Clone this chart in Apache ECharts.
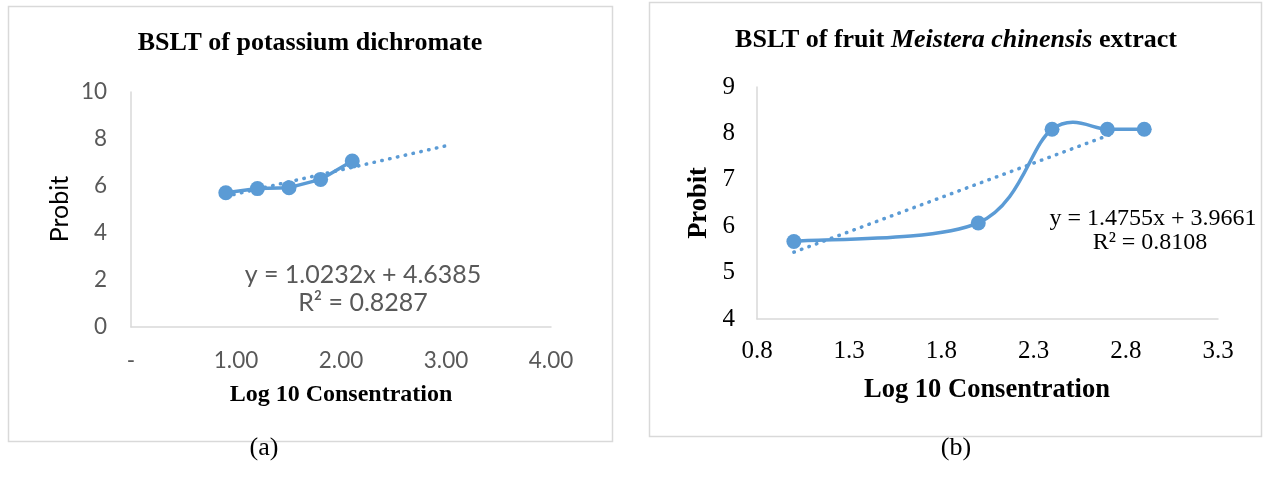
<!DOCTYPE html>
<html>
<head>
<meta charset="utf-8">
<title>BSLT charts</title>
<script src="https://cdn.jsdelivr.net/npm/echarts@6/dist/echarts.min.js"></script>
<style>
  html, body { margin: 0; padding: 0; background: #fff; }
  #chart { width: 1266px; height: 491px; }
</style>
</head>
<body>
<div id="chart"></div>
<script>
// (a) potassium dichromate
const logConcA = [0.903, 1.204, 1.505, 1.806, 2.107];
const probitA = [5.71, 5.89, 5.93, 6.28, 7.06];
const trendA = [[0.903, 5.56], [3.0, 7.71]];
const xTicksA = [0, 1, 2, 3, 4];

// (b) fruit Meistera chinensis extract
const logConcB = [1.0, 2.0, 2.4, 2.7, 2.9];
const probitB = [5.67, 6.07, 8.09, 8.09, 8.09];
const trendB = [[1.0, 5.44], [2.72, 7.98]];
const xTicksB = [0.8, 1.3, 1.8, 2.3, 2.8, 3.3];

const blue = '#5B9BD5';
const serif = '"Liberation Serif", "Times New Roman", serif';
const sans = 'Lato, "Open Sans", sans-serif';

const chart = echarts.init(document.getElementById('chart'));

const pairs = (xs, ys) => xs.map((x, i) => [x, ys[i]]);
const dotted = { color: blue, width: 3.5, type: [0.5, 7.5], cap: 'round' };

// Excel-like smoothed line: bezier through the points, tangents = (next - prev) / 6
function smoothPath(pts) {
  let d = 'M' + pts[0][0] + ' ' + pts[0][1];
  for (let i = 0; i < pts.length - 1; i++) {
    const p0 = pts[Math.max(i - 1, 0)], p1 = pts[i], p2 = pts[i + 1];
    const p3 = pts[Math.min(i + 2, pts.length - 1)];
    const c1 = [p1[0] + (p2[0] - p0[0]) / 6, p1[1] + (p2[1] - p0[1]) / 6];
    const c2 = [p2[0] - (p3[0] - p1[0]) / 6, p2[1] - (p3[1] - p1[1]) / 6];
    d += ' C' + c1.join(' ') + ' ' + c2.join(' ') + ' ' + p2.join(' ');
  }
  return d;
}

const option = {
  backgroundColor: '#fff',
  animation: false,
  grid: [
    { left: 131, top: 92, width: 420, height: 235 },
    { left: 757, top: 87, width: 461, height: 232 }
  ],
  xAxis: [
    {
      gridIndex: 0, type: 'value', min: 0, max: 4, interval: 1,
      axisLine: { lineStyle: { color: '#d9d9d9', width: 1.5 } },
      axisTick: { show: false }, splitLine: { show: false },
      axisLabel: {
        customValues: xTicksA, margin: 22, color: '#595959', fontFamily: sans, fontSize: 22.5,
        formatter: v => v === 0 ? '-' : v.toFixed(2)
      }
    },
    {
      gridIndex: 1, type: 'value', min: 0.8, max: 3.3,
      axisLine: { lineStyle: { color: '#d9d9d9', width: 1.5 } },
      axisTick: { show: false }, splitLine: { show: false },
      axisLabel: {
        customValues: xTicksB, margin: 20, color: '#000', fontFamily: serif, fontSize: 25,
        formatter: v => v.toFixed(1)
      }
    }
  ],
  yAxis: [
    {
      gridIndex: 0, type: 'value', min: 0, max: 10, interval: 2,
      axisLine: { show: true, lineStyle: { color: '#d9d9d9', width: 1.5 } },
      axisTick: { show: false }, splitLine: { show: false },
      axisLabel: { margin: 24, color: '#595959', fontFamily: sans, fontSize: 22.5 }
    },
    {
      gridIndex: 1, type: 'value', min: 4, max: 9, interval: 1,
      axisLine: { show: true, lineStyle: { color: '#d9d9d9', width: 1.5 } },
      axisTick: { show: false }, splitLine: { show: false },
      axisLabel: { margin: 22, color: '#000', fontFamily: serif, fontSize: 25 }
    }
  ],
  series: [
    {
      type: 'line', xAxisIndex: 0, yAxisIndex: 0, data: trendA,
      symbol: 'none', lineStyle: dotted, z: 1
    },
    {
      type: 'line', xAxisIndex: 0, yAxisIndex: 0, data: pairs(logConcA, probitA),
      symbol: 'circle', symbolSize: 15,
      itemStyle: { color: blue }, lineStyle: { color: blue, width: 3.5 }, z: 2
    },
    {
      type: 'line', xAxisIndex: 1, yAxisIndex: 1, data: trendB,
      symbol: 'none', lineStyle: dotted, z: 1
    },
    {
      type: 'custom', xAxisIndex: 1, yAxisIndex: 1, data: pairs(logConcB, probitB), z: 2,
      renderItem: (params, api) => {
        if (params.dataIndex !== 0) return null;
        const pts = pairs(logConcB, probitB).map(p => api.coord(p));
        return {
          type: 'path',
          shape: { pathData: smoothPath(pts) },
          style: { fill: 'none', stroke: blue, lineWidth: 3.5 }
        };
      }
    },
    {
      type: 'scatter', xAxisIndex: 1, yAxisIndex: 1, data: pairs(logConcB, probitB),
      symbol: 'circle', symbolSize: 15, itemStyle: { color: blue, opacity: 1 }, z: 3
    }
  ],
  graphic: [
    // panel frames
    { type: 'rect', shape: { x: 8.5, y: 6.5, width: 604, height: 435 },
      style: { fill: 'none', stroke: '#d9d9d9', lineWidth: 1.5 }, z: -1 },
    { type: 'rect', shape: { x: 649.5, y: 2.5, width: 612, height: 434 },
      style: { fill: 'none', stroke: '#d9d9d9', lineWidth: 1.5 }, z: -1 },

    // titles
    { type: 'text', x: 310, y: 43, style: {
        text: 'BSLT of potassium dichromate', fill: '#000',
        font: 'bold 26px ' + serif, textAlign: 'center', textVerticalAlign: 'middle' } },
    { type: 'text', x: 956, y: 40, style: {
        text: '{b|BSLT of fruit }{i|Meistera chinensis}{b| extract}',
        textAlign: 'center', textVerticalAlign: 'middle',
        rich: {
          b: { fill: '#000', fontFamily: serif, fontWeight: 'bold', fontSize: 26 },
          i: { fill: '#000', fontFamily: serif, fontWeight: 'bold', fontStyle: 'italic', fontSize: 26 }
        } } },

    // axis names
    { type: 'text', x: 60, y: 209, rotation: Math.PI / 2, style: {
        text: 'Probit', fill: '#000', font: '25px ' + sans,
        textAlign: 'center', textVerticalAlign: 'middle' } },
    { type: 'text', x: 341, y: 395, style: {
        text: 'Log 10 Consentration', fill: '#000', font: 'bold 24px ' + serif,
        textAlign: 'center', textVerticalAlign: 'middle' } },
    { type: 'text', x: 699, y: 203, rotation: Math.PI / 2, style: {
        text: 'Probit', fill: '#000', font: 'bold 26.5px ' + serif,
        textAlign: 'center', textVerticalAlign: 'middle' } },
    { type: 'text', x: 987, y: 390, style: {
        text: 'Log 10 Consentration', fill: '#000', font: 'bold 26.5px ' + serif,
        textAlign: 'center', textVerticalAlign: 'middle' } },

    // trendline equations
    { type: 'text', x: 363, y: 275, style: {
        text: 'y = 1.0232x + 4.6385', fill: '#595959', font: '25px ' + sans,
        textAlign: 'center', textVerticalAlign: 'middle' } },
    { type: 'text', x: 363, y: 303, style: {
        text: 'R² = 0.8287', fill: '#595959', font: '25px ' + sans,
        textAlign: 'center', textVerticalAlign: 'middle' } },
    { type: 'text', x: 1153, y: 219, style: {
        text: 'y = 1.4755x + 3.9661', fill: '#000', font: '24px ' + serif,
        textAlign: 'center', textVerticalAlign: 'middle' } },
    { type: 'text', x: 1150, y: 243, style: {
        text: 'R² = 0.8108', fill: '#000', font: '24px ' + serif,
        textAlign: 'center', textVerticalAlign: 'middle' } },

    // panel captions
    { type: 'text', x: 264, y: 448, style: {
        text: '(a)', fill: '#000', font: '26px ' + serif,
        textAlign: 'center', textVerticalAlign: 'middle' } },
    { type: 'text', x: 956, y: 448, style: {
        text: '(b)', fill: '#000', font: '26px ' + serif,
        textAlign: 'center', textVerticalAlign: 'middle' } }
  ]
};

chart.setOption(option);
</script>
</body>
</html>
